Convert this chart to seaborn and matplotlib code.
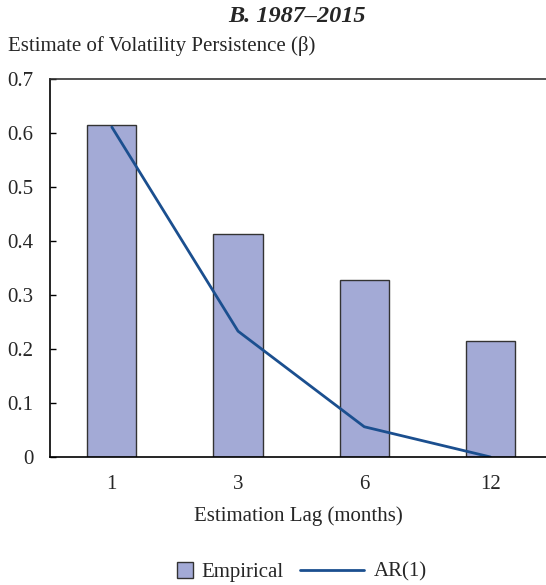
import matplotlib
matplotlib.use("Agg")
import matplotlib.pyplot as plt
from matplotlib.patches import Patch
from matplotlib.lines import Line2D
import seaborn as sns
import pandas as pd

# Volatility persistence by estimation lag, 1987-2015
lags = ["1", "3", "6", "12"]
empirical = [0.615, 0.413, 0.328, 0.215]
ar1 = [0.611, 0.233, 0.056, 0.0]
y_ticks = [0, 0.1, 0.2, 0.3, 0.4, 0.5, 0.6, 0.7]
y_tick_labels = ["0", "0.1", "0.2", "0.3", "0.4", "0.5", "0.6", "0.7"]

bar_color = "#A3AAD6"
line_color = "#1B4F8F"

sns.set_theme(style="white")
plt.rcParams["font.family"] = ["Liberation Serif", "DejaVu Serif"]

df = pd.DataFrame({"lag": lags, "empirical": empirical, "ar1": ar1})

fig = plt.figure(figsize=(5.46, 5.85), dpi=100)
ax = fig.add_axes([50 / 546, 1 - 457 / 585, 1.0 - 50 / 546, (457 - 79) / 585])

sns.barplot(data=df, x="lag", y="empirical", order=lags, color=bar_color,
            saturation=1, width=0.39, edgecolor="#333333", linewidth=1.0, ax=ax)
sns.pointplot(data=df, x="lag", y="ar1", order=lags, color=line_color,
              markers="", linewidth=2.0, errorbar=None, ax=ax)

ax.set_xlim(-0.49, 3.44)
ax.set_ylim(0, 0.7)
ax.set_yticks(y_ticks)
ax.set_yticklabels(y_tick_labels)
ax.tick_params(axis="y", direction="in", length=4, width=1, color="black",
               labelsize=15, pad=12, left=True)
ax.tick_params(axis="x", length=0, labelsize=15, pad=13)

ax.set_xlabel("Estimation Lag (months)", fontsize=15, labelpad=9)
ax.set_ylabel("")

for side in ["left", "bottom"]:
    ax.spines[side].set_color("black")
    ax.spines[side].set_linewidth(1.2)
ax.spines["top"].set_color("#333333")
ax.spines["top"].set_linewidth(1.2)
ax.spines["right"].set_visible(False)

fig.text(297 / 546, 1 - 17 / 585, "B. 1987–2015", ha="center", va="center",
         fontsize=17.5, fontweight="bold", fontstyle="italic")
fig.text(8 / 546, 1 - 46 / 585, "Estimate of Volatility Persistence (β)",
         ha="left", va="center", fontsize=15)

# Legend: a square swatch for the bars and a long stroke for the line
bar_handle = Patch(facecolor=bar_color, edgecolor="#333333", linewidth=1.0, label="Empirical")
line_handle = Line2D([0], [0], color=line_color, linewidth=2.0, label="AR(1)")
fig.legend(handles=[bar_handle], loc="center left",
           bbox_to_anchor=(158 / 546, 1 - 572 / 585), frameon=False, fontsize=15,
           handlelength=0.8, handleheight=0.8, handletextpad=0.4)
fig.legend(handles=[line_handle], loc="center left",
           bbox_to_anchor=(281 / 546, 1 - 572 / 585), frameon=False, fontsize=15,
           handlelength=3.1, handletextpad=0.45)

fig.savefig("out.png", dpi=100)
